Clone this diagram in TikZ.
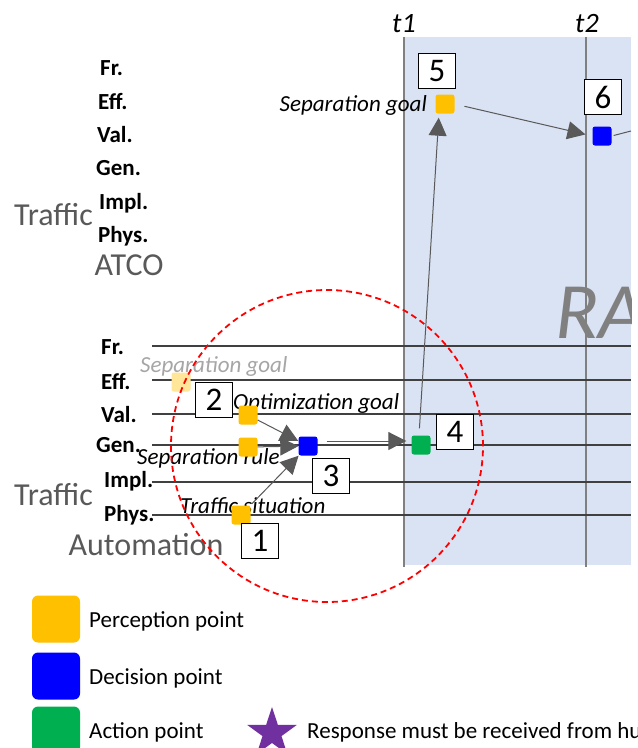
\documentclass[tikz,border=0pt]{standalone}
\usepackage{fontspec}
\setmainfont{Carlito}
\usetikzlibrary{arrows.meta,shapes.geometric}
\definecolor{bgBlue}{HTML}{DAE3F3}
\definecolor{percY}{HTML}{FFC000}
\definecolor{fadeY}{HTML}{FFE699}
\definecolor{decB}{HTML}{0000FF}
\definecolor{actG}{HTML}{00B050}
\definecolor{bigGray}{HTML}{595959}
\definecolor{raGray}{HTML}{808080}
\definecolor{lineGray}{HTML}{404040}
\definecolor{tGray}{HTML}{808080}
\definecolor{flowGray}{HTML}{595959}
\definecolor{faintTxt}{HTML}{A6A6A6}
\definecolor{starPurple}{HTML}{7030A0}
\tikzset{
  lvl/.style={font=\bfseries\fontsize{23}{23}\selectfont, anchor=west, inner sep=0pt},
  bigtxt/.style={font=\fontsize{32}{32}\selectfont, text=bigGray, inner sep=0pt},
  lab/.style={font=\itshape\fontsize{23}{23}\selectfont, inner sep=0pt},
  tlab/.style={font=\itshape\fontsize{28}{28}\selectfont, inner sep=0pt},
  legtxt/.style={font=\fontsize{23}{23}\selectfont, anchor=west, inner sep=0pt},
  numbox/.style={draw=black, fill=white, line width=1pt, minimum width=37pt, minimum height=35pt, inner sep=0pt, font=\fontsize{33}{33}\selectfont},
  sq/.style={minimum size=19pt, inner sep=0pt, rounded corners=2.5pt},
  perc/.style={sq, fill=percY},
  faded/.style={sq, fill=fadeY},
  deci/.style={sq, fill=decB},
  acti/.style={sq, fill=actG},
  legsq/.style={minimum width=48pt, minimum height=47pt, inner sep=0pt, rounded corners=6pt},
  flow/.style={draw=flowGray, line width=1pt, -{Triangle[length=18pt,width=18pt]}},
  plainflow/.style={draw=flowGray, line width=1pt},
  hline/.style={draw=lineGray, line width=1.5pt},
  tline/.style={draw=tGray, line width=1.2pt},
  zone/.style={draw=red, line width=1.8pt, dash pattern=on 6pt off 4pt},
}
\begin{document}
\begin{tikzpicture}[x=1pt, y=-1pt]
\useasboundingbox (0,0) rectangle (638,748);
\clip (0,0) rectangle (638,748);
\fill[white] (0,0) rectangle (638,748);
% time region
\fill[bgBlue] (404,37) rectangle (631,565);
\begin{scope}
  \clip (0,0) rectangle (631,748);
  \node[font=\itshape\fontsize{80}{80}\selectfont, text=raGray, anchor=west, inner sep=0pt] (ra) at (555,313) {RA};
\end{scope}
\coordinate (t1top) at (404,37);
\coordinate (t1bot) at (404,567);
\coordinate (t2top) at (586,37);
\coordinate (t2bot) at (586,567);
\draw[tline] (t1top) -- (t1bot);
\draw[tline] (t2top) -- (t2bot);
\node[tlab] (t1) at (404,24) {t1};
\node[tlab] (t2) at (587,24) {t2};
% lower level lines
\foreach \nm/\yy in {fr/346, eff/380, val/414, gen/445, impl/482, phys/515}{
  \coordinate (\nm L) at (152,\yy);
  \coordinate (\nm R) at (631,\yy);
  \draw[hline] (\nm L) -- (\nm R);
}
% upper level labels
\node[lvl] (ufr) at (100,68) {Fr.};
\node[lvl] (ueff) at (98,101) {Eff.};
\node[lvl] (uval) at (97,135) {Val.};
\node[lvl] (ugen) at (96,168) {Gen.};
\node[lvl] (uimpl) at (99,203) {Impl.};
\node[lvl] (uphys) at (98,236) {Phys.};
\node[bigtxt, anchor=west] (utraffic) at (14,215) {Traffic};
\node[bigtxt] (atco) at (129,265) {ATCO};
% lower level labels
\node[lvl] (lfr) at (101,347) {Fr.};
\node[lvl] (leff) at (101,381) {Eff.};
\node[lvl] (lval) at (101,415) {Val.};
\node[lvl] (lgen) at (96,445) {Gen.};
\node[lvl] (limpl) at (104,481) {Impl.};
\node[lvl] (lphys) at (104,515) {Phys.};
\node[bigtxt, anchor=west] (ltraffic) at (14,495) {Traffic};
\node[bigtxt] (autom) at (146,545) {Automation};
% italic labels
\node[lab, anchor=east] (sg5) at (427,105) {Separation goal};
\node[lab, anchor=west, text=faintTxt] (sgf) at (140,366) {Separation goal};
\node[lab, anchor=west] (og) at (233,403) {Optimization goal};
\node[lab, anchor=west] (sr) at (137,458) {Separation rule};
\node[lab, anchor=west] (ts) at (180,506) {Traffic situation};
% points
\node[faded] (yf) at (181,382) {};
\node[perc] (yv) at (248,415) {};
\node[perc] (yg) at (248,447) {};
\node[perc] (yp) at (241,515) {};
\node[deci] (b3) at (308,446) {};
\node[acti] (g4) at (421,445) {};
\node[perc] (y5) at (445,104) {};
\node[deci] (b6) at (602,136) {};
\coordinate (b6out) at (631,131);
% number boxes
\node[numbox] (n1) at (260,541) {1};
\node[numbox] (n2) at (214,400) {2};
\node[numbox] (n3) at (331,476) {3};
\node[numbox] (n4) at (455,432) {4};
\node[numbox] (n5) at (437,71) {5};
\node[numbox] (n6) at (603,97) {6};
% flows
\draw[flow] (yv) -- (b3);
\draw[flow] (yg) -- (b3);
\draw[flow, shorten <=2pt] (yp) -- (b3);
\draw[flow, shorten <=9pt, shorten >=5pt] ([yshift=5pt]b3.east) -- ([yshift=4pt]g4.west);
\draw[flow, shorten <=7pt, shorten >=4pt] ([xshift=-2pt]g4.north) -- ([xshift=-6pt]y5.south);
\draw[flow, shorten <=10pt, shorten >=7pt] (y5.east) -- (b6.west);
\draw[plainflow, shorten <=2pt] (b6.east) -- (b6out);
% automation zone
\node[zone, circle, minimum size=312pt, inner sep=0pt] (zone) at (327,446) {};
% legend
\node[legsq, fill=percY] (lgy) at (56,619) {};
\node[legsq, fill=decB] (lgb) at (56,676) {};
\node[legsq, fill=actG] (lgg) at (56,730) {};
\node[legtxt] (lty) at (89,621) {Perception point};
\node[legtxt] (ltb) at (89,678) {Decision point};
\node[legtxt] (ltg) at (89,732) {Action point};
\node[star, star points=5, star point ratio=2.6, fill=starPurple, minimum size=52pt, inner sep=0pt] (lstar) at (272,733) {};
\node[legtxt] (ltr) at (307,732) {Response must be received from hu};
\end{tikzpicture}
\end{document}
